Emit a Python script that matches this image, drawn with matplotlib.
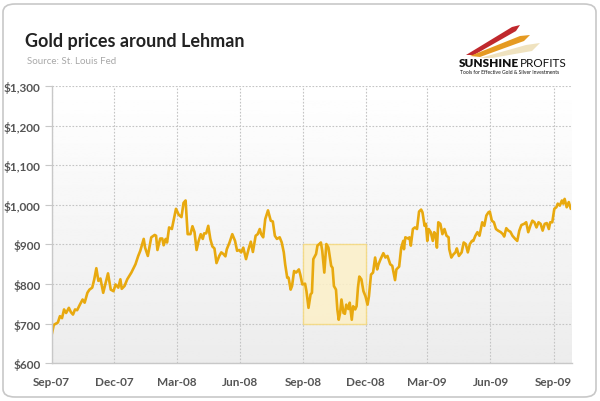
import matplotlib
matplotlib.use('Agg')
import matplotlib.pyplot as plt
import matplotlib.dates as mdates
from matplotlib.patches import FancyBboxPatch, Polygon, Rectangle
import numpy as np
import pandas as pd

# gold price (USD/oz); day = days after 2007-09-01
day = [0, 3, 9, 12, 15, 18, 21, 25, 28, 31, 34, 37, 41, 45, 48, 52, 55, 59, 62, 65,
       68, 71, 75, 78, 82, 86, 90, 93, 97, 100, 102, 106, 110, 116, 122, 126,
       129, 134, 136, 140, 145, 150, 152, 154, 158, 161, 163, 166, 168, 171, 175, 179,
       181, 185, 189, 192, 195, 198, 202, 205, 208, 211, 214, 217, 220, 222, 225, 228,
       231, 234, 237, 240, 244, 247, 250, 253,
       255, 259, 263, 267, 270, 273, 276, 279, 283, 287, 290, 293, 297, 300, 303, 305,
       308, 311, 315, 319, 322, 325, 328, 332, 335, 338, 340, 343, 345, 348, 350, 353,
       356, 360, 362, 365, 369, 371, 374, 377,
       379, 381, 385, 387, 391, 392, 394, 397, 400, 403, 407, 409, 411, 414, 416, 418,
       420, 422, 425, 427, 429, 432, 434, 437, 439, 442, 444, 446, 448, 451, 454, 457,
       460, 462, 465, 468, 471, 474, 476, 479, 483, 486, 489, 493, 496, 500, 502,
       506, 509, 512, 513, 515, 519, 521, 523, 526, 529, 532, 535, 538, 540, 543, 545,
       547, 549, 552, 555, 557, 559, 561, 563, 566, 569, 572, 575, 578, 579, 582, 585,
       588, 590, 593, 597, 600, 603, 606, 609, 612, 614, 617, 620, 623, 627, 630, 633,
       636, 638, 641, 644, 647, 650, 654, 657, 659, 662, 665, 668, 671, 675, 678, 681,
       684, 688, 691, 694, 697, 700, 703, 706, 709, 712, 715, 718, 721, 724, 726, 729,
       732, 735, 737, 740, 743, 745, 747, 750, 753, 756, 758]
price = [672, 697, 703, 719, 714, 736, 727, 740, 729, 723, 736, 734, 748, 761, 753, 778, 786, 791, 812, 840,
         808, 814, 778, 799, 827, 786, 782, 799, 791, 812, 788, 795, 812, 829, 850, 871,
         884, 914, 892, 871, 918, 924, 922, 886, 915, 915, 898, 914, 905, 943, 939, 973,
         990, 975, 969, 1005, 1011, 926, 926, 946, 931, 886, 909, 926, 914, 928, 928, 947,
         914, 895, 890, 853, 871, 880, 876, 870,
         888, 905, 926, 909, 884, 886, 880, 892, 863, 890, 907, 881, 922, 926, 939, 926,
         918, 964, 986, 960, 958, 922, 914, 918, 905, 880, 850, 816, 816, 786, 795, 833,
         829, 837, 824, 799, 801, 782, 740, 774,
         778, 863, 876, 897, 903, 905, 884, 829, 901, 892, 846, 841, 795, 786, 736, 710,
         727, 761, 727, 725, 748, 737, 753, 710, 744, 736, 744, 791, 819, 812, 782, 769,
         748, 769, 824, 829, 867, 837, 850, 863, 878, 867, 871, 850, 846, 810, 837,
         844, 892, 909, 888, 918, 915, 918, 897, 939, 943, 939, 983, 988, 981, 947, 952,
         909, 939, 931, 909, 931, 926, 892, 956, 952, 926, 939, 922, 918, 888, 867, 875,
         880, 890, 871, 880, 905, 901, 880, 901, 909, 909, 922, 931, 922, 956, 947, 973,
         981, 983, 960, 956, 939, 935, 931, 926, 920, 941, 935, 932, 922, 914, 909, 935,
         949, 952, 956, 931, 947, 960, 956, 943, 956, 952, 935, 952, 954, 939, 956, 956,
         990, 994, 1003, 998, 1011, 1003, 1015, 994, 1007, 990, 992]

start = pd.Timestamp('2007-09-01')
dates = start + pd.to_timedelta(day, unit='D')
x_end = start + pd.Timedelta(days=757)

tick_dates = pd.date_range('2007-09-01', '2009-09-01', freq='3MS')
y_ticks = [600, 700, 800, 900, 1000, 1100, 1200, 1300]
y_labels = ['$600', '$700', '$800', '$900', '$1,000', '$1,100', '$1,200', '$1,300']

# highlighted area: Sep-08 .. Dec-08, $700 .. $900
hl_x = [pd.Timestamp('2008-09-01'), pd.Timestamp('2008-12-01')]
hl_y = [700, 900]

gold = '#e8a90f'
font = ['Lato', 'DejaVu Sans']
plt.rcParams['font.family'] = font

fig = plt.figure(figsize=(6, 4.02), dpi=100)
fig.patch.set_facecolor('white')

# card frame
card = FancyBboxPatch((3 / 600, 4 / 402), 593 / 600, 393 / 402,
                      boxstyle='round,pad=0,rounding_size=0.02',
                      transform=fig.transFigure, facecolor='white',
                      edgecolor='#c8c8c8', linewidth=1.2, zorder=-10)
fig.patches.append(card)

ax = fig.add_axes([51.7 / 600, 1 - 364.3 / 402, (571.5 - 51.7) / 600, (364.3 - 87) / 402])
ax.set_facecolor('none')

# grey-to-white gradient behind the plot
grad = np.linspace(0.925, 1.0, 256).reshape(-1, 1)
ax.imshow(grad, extent=[0, 1, 1, 0], transform=ax.transAxes, aspect='auto',
          cmap='gray', vmin=0, vmax=1, zorder=0)

ax.add_patch(Rectangle((mdates.date2num(hl_x[0]), hl_y[0]),
                       mdates.date2num(hl_x[1]) - mdates.date2num(hl_x[0]),
                       hl_y[1] - hl_y[0], facecolor='#fcf0c8', edgecolor='#f5d97e',
                       linewidth=1, alpha=0.85, zorder=1))

ax.plot(dates, price, color=gold, linewidth=1.9, zorder=3, solid_joinstyle='round')

ax.set_xlim(start, x_end)
ax.set_ylim(600, 1300)
ax.set_yticks(y_ticks)
ax.set_yticklabels(y_labels)
ax.set_xticks(tick_dates)
ax.xaxis.set_major_formatter(mdates.DateFormatter('%b-%y'))

ax.grid(True, color='#c4c4c4', linestyle=(0, (1.5, 1.5)), linewidth=0.8, zorder=1)
ax.set_axisbelow(True)
for s in ['top', 'right']:
    ax.spines[s].set_visible(False)
for s in ['left', 'bottom']:
    ax.spines[s].set_color('#c8c8c8')
    ax.spines[s].set_linewidth(1)
    ax.spines[s].set_zorder(4)

ax.tick_params(axis='y', length=5, color='#c8c8c8', labelsize=8.5,
               labelcolor='#555555', pad=3)
ax.tick_params(axis='x', length=0, labelsize=8.5, labelcolor='#555555', pad=9)
for lab in ax.get_xticklabels() + ax.get_yticklabels():
    lab.set_fontweight('bold')

# title and source
fig.text(25 / 600, 1 - 42 / 402, 'Gold prices around Lehman', fontsize=13,
         fontweight='bold', color='#222222', va='center', ha='left')
fig.text(27 / 600, 1 - 62 / 402, 'Source: St. Louis Fed', fontsize=7,
         color='#a8a8a8', va='center', ha='left')

# logo
def px(x, y):
    return (x / 600, 1 - y / 402)

logo_shapes = [
    ([(466, 56), (512, 28), (520, 26), (516, 32), (474, 56)], '#c0282d'),
    ([(470, 57), (520, 37), (530, 36), (524, 42), (480, 58)], '#e59a22'),
    ([(480, 59), (526, 46), (540, 44), (532, 52), (492, 59)], '#efe2bf'),
]
for pts, c in logo_shapes:
    fig.patches.append(Polygon([px(*p) for p in pts], closed=True,
                               transform=fig.transFigure, facecolor=c,
                               edgecolor='none', zorder=2))
fig.text(px(459, 0)[0], px(0, 63.5)[1], 'SUNSHINE', fontsize=8.5, fontweight='heavy',
         color='#111111', va='center', ha='left')
fig.text(px(520, 0)[0], px(0, 63.5)[1], 'PROFITS', fontsize=8.5,
         color='#111111', va='center', ha='left')
fig.text(px(460, 0)[0], px(0, 72)[1], 'Tools for Effective Gold & Silver Investments',
         fontsize=3.6, color='#111111', va='center', ha='left')

fig.savefig('out.png', dpi=100)
